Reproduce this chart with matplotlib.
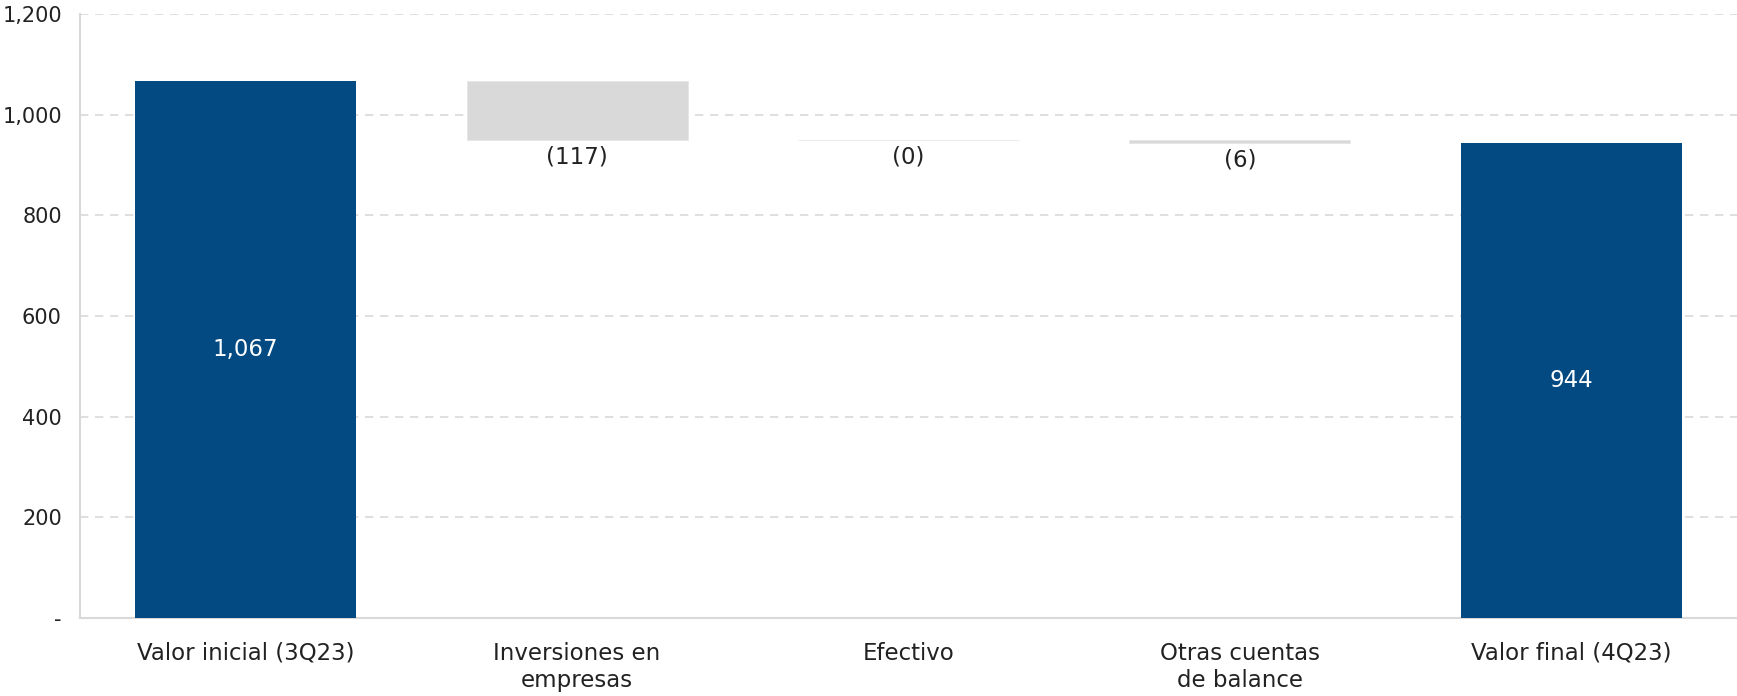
import numpy as np
import matplotlib.pyplot as plt

plt.rcParams['font.family'] = ['DejaVu Sans']

# Waterfall data
categories = ["Valor inicial (3Q23)", "Inversiones en\nempresas", "Efectivo",
              "Otras cuentas\nde balance", "Valor final (4Q23)"]
start_value = 1067
changes = [-117, -0.4, -6]
change_labels = ["(117)", "(0)", "(6)"]
end_value = 944
yticks = [0, 200, 400, 600, 800, 1000, 1200]
ytick_labels = ["-", "200", "400", "600", "800", "1,000", "1,200"]

blue = '#044a82'
grey = '#d9d9d9'
fs = 16.5

fig = plt.figure(figsize=(17.37, 6.96), dpi=100)
ax = fig.add_axes([0.046, 0.112, 0.954, 0.868])

x = np.arange(len(categories))
width = 0.667

# totals
ax.bar(x[0], start_value, width=width, color=blue, zorder=3)
ax.bar(x[-1], end_value, width=width, color=blue, zorder=3)
ax.text(x[0], start_value / 2, f"{start_value:,}", color='white', ha='center', va='center', fontsize=fs, zorder=4)
ax.text(x[-1], end_value / 2, f"{end_value:,}", color='white', ha='center', va='center', fontsize=fs, zorder=4)

# floating changes
level = start_value
for i, (chg, lab) in enumerate(zip(changes, change_labels), start=1):
    bottom = level + chg
    ax.bar(x[i], -chg, bottom=bottom, width=width, color=grey,
           edgecolor='#e6e6e6', linewidth=0.6, zorder=3)
    ax.annotate(lab, (x[i], bottom), xytext=(0, -4), textcoords='offset points',
                ha='center', va='top', fontsize=fs, color='#222222')
    level = bottom

ax.set_xlim(-0.5, len(categories) - 0.5)
ax.set_ylim(0, 1200)
ax.set_yticks(yticks)
ax.set_yticklabels(ytick_labels)
ax.set_xticks(x)
ax.set_xticklabels(categories, linespacing=1.25)
ax.tick_params(axis='both', length=0, colors='#222222')
ax.tick_params(axis='x', pad=17, labelsize=fs)
ax.tick_params(axis='y', pad=13, labelsize=15)

ax.yaxis.grid(True, linestyle=(0, (5, 4)), color='#d9d9d9', linewidth=1.2, zorder=0)
ax.set_axisbelow(True)
for side in ['top', 'right']:
    ax.spines[side].set_visible(False)
for side in ['left', 'bottom']:
    ax.spines[side].set_color('#d9d9d9')
    ax.spines[side].set_linewidth(1.5)

fig.savefig('out.png', dpi=100)
